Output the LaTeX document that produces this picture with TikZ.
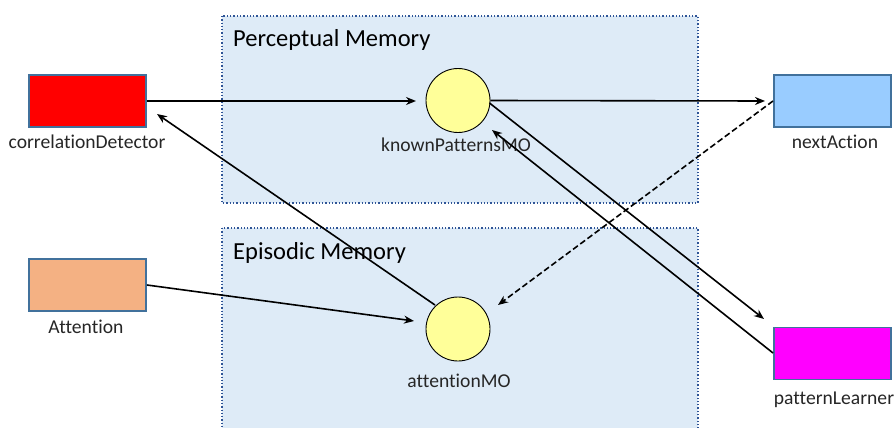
\documentclass[tikz,border=0pt]{standalone}
\usepackage{fontspec}
\setmainfont{Carlito}[Ligatures=NoCommon]
\usetikzlibrary{arrows.meta}
\definecolor{memfill}{RGB}{222,235,247}
\definecolor{memline}{RGB}{47,85,151}
\definecolor{boxline}{RGB}{65,113,156}
\definecolor{mofill}{RGB}{255,255,153}
\definecolor{cdfill}{RGB}{255,0,0}
\definecolor{nafill}{RGB}{153,204,255}
\definecolor{atfill}{RGB}{244,177,131}
\definecolor{plfill}{RGB}{255,0,255}
\definecolor{txt}{RGB}{38,38,38}
\begin{document}
\begin{tikzpicture}[x=1pt,y=-1pt,
  membox/.style={draw=memline,fill=memfill,line width=1.3pt,dotted},
  unitbox/.style={draw=boxline,line width=1.8pt,minimum width=117pt,minimum height=52pt,inner sep=0pt},
  mo/.style={circle,draw=black,line width=0.9pt,fill=mofill,minimum size=64pt,inner sep=0pt},
  lbl/.style={font=\fontsize{19.6}{23}\selectfont,text=txt,inner sep=0pt},
  ttl/.style={font=\fontsize{24.5}{29}\selectfont,text=black,inner sep=0pt,anchor=base west},
  conn/.style={line width=1.6pt,-{Stealth[length=10pt,width=8pt]}}
]
\useasboundingbox (0,0) rectangle (895,428);
\clip (0,0) rectangle (895,428);
\fill[white] (0,0) rectangle (895,428);
% memory areas
\draw[membox] (222,16) rectangle (698,203);
\draw[membox] (222,228) rectangle (698,445);
\node[ttl] (pmt) at (233,47) {Perceptual Memory};
\node[ttl] (emt) at (233,259) {Episodic Memory};
% units
\node[unitbox,fill=cdfill] (cd) at (87.5,101) {};
\node[lbl] (cdl) at (87,142) {correlationDetector};
\node[unitbox,fill=atfill] (at) at (87.5,285) {};
\node[lbl] (atl) at (86,327) {Attention};
\node[unitbox,fill=nafill] (na) at (832.5,101) {};
\node[lbl] (nal) at (835,142) {nextAction};
\node[unitbox,fill=plfill] (pl) at (832.5,353.5) {};
\node[lbl] (pll) at (834,400) {patternLearner};
% MOs
\node[mo] (kp) at (458,100.5) {};
\node[lbl] (kpl) at (456,145) {knownPatternsMO};
\node[mo] (am) at (458,329) {};
\node[lbl] (aml) at (459,381) {attentionMO};
% anchors for arrow tips
\coordinate (t1) at (416,101);
\coordinate (t2) at (765,101);
\coordinate (s3) at (489.5,103);
\coordinate (t3) at (764,319);
\coordinate (s4) at (773,353);
\coordinate (t4) at (492,130);
\coordinate (s5) at (435,305);
\coordinate (t5) at (157,114);
\coordinate (t6) at (414,321);
\coordinate (s7) at (773,101);
\coordinate (t7) at (498,305);
% connectors
\draw[conn] (cd.east) -- (t1);
\draw[conn] (kp.east) -- (t2);
\draw[conn] (s3) -- (t3);
\draw[conn] (s4) -- (t4);
\draw[conn] (s5) -- (t5);
\draw[conn] (at.east) -- (t6);
\draw[conn,dashed,dash pattern=on 6pt off 3pt] (s7) -- (t7);
\end{tikzpicture}
\end{document}
